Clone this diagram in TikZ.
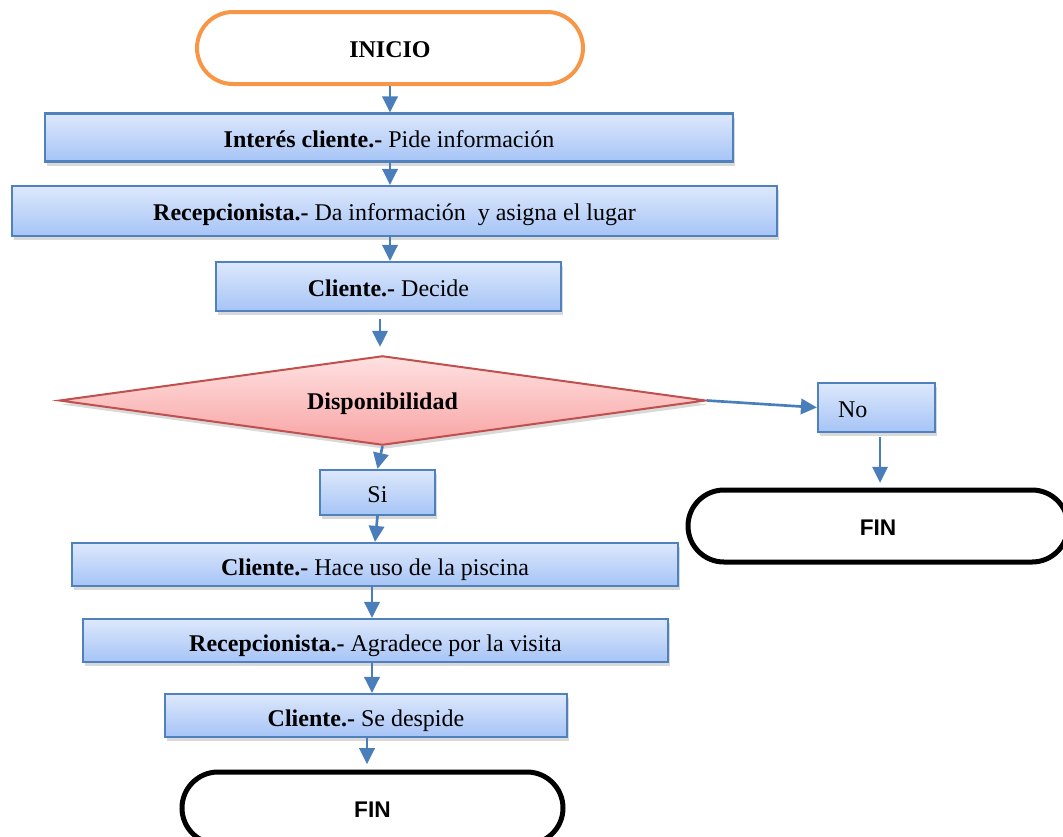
\documentclass[tikz,border=0pt]{standalone}
\usepackage{fontspec}
\setmainfont{Liberation Serif}
\newfontfamily\finfont{Liberation Sans}
\usetikzlibrary{shapes.misc,shapes.geometric,arrows.meta,shadows}
\definecolor{boxtop}{HTML}{DDE8FC}
\definecolor{boxbot}{HTML}{A6C4F6}
\definecolor{boxline}{HTML}{4F81BD}
\definecolor{arrowblue}{HTML}{4A7EBB}
\definecolor{dtop}{HTML}{FFE1E1}
\definecolor{dbot}{HTML}{F8A3A3}
\definecolor{dline}{HTML}{C0504D}
\definecolor{orangeline}{HTML}{F79646}
\begin{document}
\begin{tikzpicture}[x=0.75pt,y=-0.75pt,
  font=\fontsize{18pt}{21pt}\selectfont,
  shad/.style={drop shadow={shadow xshift=1.5pt,shadow yshift=-3pt,opacity=0.3}},
  stepbox/.style={rectangle,draw=boxline,line width=1.6pt,top color=boxtop,bottom color=boxbot,
    inner sep=0pt,text height=15.5pt,text depth=1pt,shad},
  lowbox/.style={stepbox,text height=16.5pt,text depth=0pt},
  terminal/.style={rounded rectangle,fill=white,inner sep=0pt,text height=15pt,text depth=1pt},
  arr/.style={draw=arrowblue,line width=2pt,-{Triangle[length=12pt,width=11.5pt]}}]
\useasboundingbox (0,0) rectangle (1063,836);

\node[terminal,draw=orangeline,line width=3pt,minimum width=289.5pt,minimum height=54pt] (inicio) at (390,48) {\textbf{INICIO}};
\node[stepbox,minimum width=516pt,minimum height=36pt] (b1) at (389,137.5) {\textbf{Interés cliente.-} Pide información};
\node[stepbox,minimum width=573.75pt,minimum height=37.5pt] (b2) at (394.5,211) {\textbf{Recepcionista.-} Da información~ y asigna el lugar};
\node[stepbox,minimum width=258.75pt,minimum height=36.75pt] (b3) at (388.5,286.5) {\textbf{Cliente.-} Decide};
\node[diamond,aspect=7.26,draw=dline,line width=1.5pt,top color=dtop,bottom color=dbot,shad,inner sep=0pt,
  minimum width=485pt,minimum height=67pt,text height=15pt,text depth=2pt] (disp) at (382.5,400.5) {\textbf{Disponibilidad}};
\node[stepbox,minimum height=36.75pt,text width=57.75pt,inner xsep=15pt,align=left] (no) at (876.5,407.5) {No};
\node[terminal,draw=black,line width=3.75pt,minimum width=285pt,minimum height=54pt,font=\finfont\fontsize{17pt}{20pt}\selectfont\bfseries] (fin1) at (878,526) {FIN};
\node[stepbox,minimum width=86.25pt,minimum height=33.75pt] (si) at (377.5,492.5) {Si};
\node[lowbox,minimum width=454.5pt,minimum height=32.25pt] (b4) at (375,564.5) {\textbf{Cliente.-} Hace uso de la piscina};
\node[lowbox,minimum width=438.75pt,minimum height=32.25pt] (b5) at (375.5,640.5) {\textbf{Recepcionista.-} Agradece por la visita};
\node[lowbox,minimum width=301.5pt,minimum height=32.25pt] (b6) at (366,715.5) {\textbf{Cliente.-} Se despide};
\node[terminal,draw=black,line width=3.75pt,minimum width=285.75pt,minimum height=54pt,font=\finfont\fontsize{17pt}{20pt}\selectfont\bfseries] (fin2) at (372.5,808) {FIN};

\coordinate (xa) at (390,0);
\coordinate (xb) at (380,0);
\coordinate (xc) at (372,0);
\coordinate (xd) at (367,0);
\coordinate (xe) at (880,0);

\draw[arr] (inicio.south -| xa) -- (b1.north -| xa);
\draw[arr] (b1.south -| xa) -- (b2.north -| xa);
\draw[arr] (b2.south -| xa) -- (b3.north -| xa);
\draw[arr,shorten <=5pt,shorten >=6pt] (b3.south -| xb) -- (disp.north -| xb);
\draw[arr] (disp.east) -- (no.west);
\draw[arr,line width=1.6pt,shorten <=3pt,shorten >=3.5pt] (no.south -| xe) -- (fin1.north -| xe);
\draw[arr] (disp.south) -- (si.north);
\draw[arr] (si.south) -- (b4.north);
\draw[arr] (b4.south -| xc) -- (b5.north -| xc);
\draw[arr] (b5.south -| xc) -- (b6.north -| xc);
\draw[arr,shorten >=4pt] (b6.south -| xd) -- (fin2.north -| xd);
\end{tikzpicture}
\end{document}
